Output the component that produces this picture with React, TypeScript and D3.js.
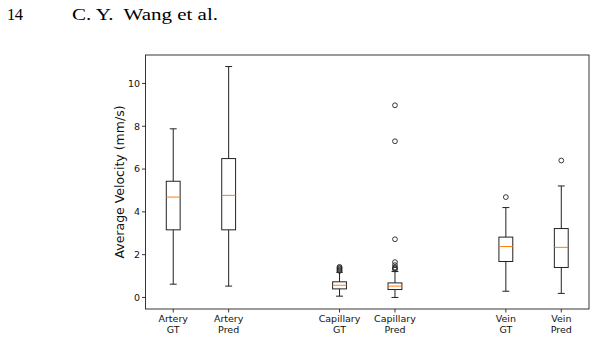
import * as d3 from "d3";
import React, { useRef, useEffect } from "react";

// groups along the x axis
const categories = [
  "Artery\nGT",
  "Artery\nPred",
  "Capillary\nGT",
  "Capillary\nPred",
  "Vein\nGT",
  "Vein\nPred",
];
const positions = [1, 2, 4, 5, 7, 8];

// box statistics per group
const whiskerLow = [0.62, 0.53, 0.06, 0.0, 0.29, 0.19];
const q1 = [3.16, 3.16, 0.4, 0.37, 1.68, 1.4];
const median = [4.69, 4.77, 0.57, 0.53, 2.38, 2.34];
const q3 = [5.43, 6.49, 0.73, 0.68, 2.82, 3.22];
const whiskerHigh = [7.88, 10.79, 1.18, 1.21, 4.2, 5.21];

// fliers per group
const outliers: number[][] = [
  [],
  [],
  [1.24, 1.29, 1.34, 1.38, 1.43],
  [1.31, 1.36, 1.4, 1.51, 1.65, 2.72, 7.3, 8.98],
  [4.69],
  [6.4],
];

const yTicks = [0, 2, 4, 6, 8, 10];

const App = () => {
  const svgRef = useRef<SVGSVGElement>(null);

  useEffect(() => {
    const svg = d3.select(svgRef.current);
    svg.selectAll("*").remove();

    const left = 145.5;
    const right = 589;
    const top = 55;
    const bottom = 309;

    const x = d3.scaleLinear().domain([0.5, 8.5]).range([left, right]);
    const y = d3.scaleLinear().domain([-0.54, 11.33]).range([bottom, top]);

    const boxW = x(0.5) - x(0.25);
    const capW = boxW / 2;
    const ink = "#222";

    // page header
    const serif = "'Liberation Serif', 'DejaVu Serif', serif";
    svg
      .append("text")
      .attr("x", 7)
      .attr("y", 19.5)
      .attr("textLength", 16)
      .style("font-family", serif)
      .style("font-size", "16.5px")
      .text("14");
    svg
      .append("text")
      .attr("x", 72)
      .attr("y", 19.5)
      .attr("textLength", 146)
      .attr("lengthAdjust", "spacingAndGlyphs")
      .style("font-family", serif)
      .style("font-size", "16.5px")
      .style("white-space", "pre")
      .text("C. Y.  Wang et al.");

    const g = svg.append("g");

    const groups = g
      .selectAll("g.box")
      .data(positions.map((p, i) => ({ p, i })))
      .join("g")
      .attr("class", "box");

    // whiskers
    groups
      .append("line")
      .attr("x1", (d) => x(d.p))
      .attr("x2", (d) => x(d.p))
      .attr("y1", (d) => y(whiskerLow[d.i]))
      .attr("y2", (d) => y(q1[d.i]))
      .attr("stroke", ink);
    groups
      .append("line")
      .attr("x1", (d) => x(d.p))
      .attr("x2", (d) => x(d.p))
      .attr("y1", (d) => y(q3[d.i]))
      .attr("y2", (d) => y(whiskerHigh[d.i]))
      .attr("stroke", ink);

    // caps
    [whiskerLow, whiskerHigh].forEach((arr) => {
      groups
        .append("line")
        .attr("x1", (d) => x(d.p) - capW / 2)
        .attr("x2", (d) => x(d.p) + capW / 2)
        .attr("y1", (d) => y(arr[d.i]))
        .attr("y2", (d) => y(arr[d.i]))
        .attr("stroke", ink);
    });

    // boxes
    groups
      .append("rect")
      .attr("x", (d) => x(d.p) - boxW / 2)
      .attr("width", boxW)
      .attr("y", (d) => y(q3[d.i]))
      .attr("height", (d) => y(q1[d.i]) - y(q3[d.i]))
      .attr("fill", "none")
      .attr("stroke", ink);

    // medians
    groups
      .append("line")
      .attr("x1", (d) => x(d.p) - boxW / 2)
      .attr("x2", (d) => x(d.p) + boxW / 2)
      .attr("y1", (d) => y(median[d.i]))
      .attr("y2", (d) => y(median[d.i]))
      .attr("stroke", "#ff7f0e");

    // fliers
    groups
      .selectAll("circle")
      .data((d) => outliers[d.i].map((v) => ({ p: d.p, v })))
      .join("circle")
      .attr("cx", (d) => x(d.p))
      .attr("cy", (d) => y(d.v))
      .attr("r", 2.4)
      .attr("fill", "none")
      .attr("stroke", ink)
      .attr("stroke-width", 0.9);

    // frame
    g.append("rect")
      .attr("x", left)
      .attr("y", top)
      .attr("width", right - left)
      .attr("height", bottom - top)
      .attr("fill", "none")
      .attr("stroke", ink)
      .attr("stroke-width", 0.9);

    const tickFont = "'DejaVu Sans', sans-serif";

    // y ticks
    const yt = g.append("g");
    yt.selectAll("line")
      .data(yTicks)
      .join("line")
      .attr("x1", left - 3.5)
      .attr("x2", left)
      .attr("y1", (d) => y(d))
      .attr("y2", (d) => y(d))
      .attr("stroke", ink)
      .attr("stroke-width", 0.9);
    yt.selectAll("text")
      .data(yTicks)
      .join("text")
      .attr("x", left - 5.5)
      .attr("y", (d) => y(d))
      .attr("dy", "0.35em")
      .attr("text-anchor", "end")
      .style("font-family", tickFont)
      .style("font-size", "9.5px")
      .style("fill", "#111")
      .text((d) => d);

    // x ticks
    const xt = g.append("g");
    xt.selectAll("line")
      .data(positions)
      .join("line")
      .attr("x1", (d) => x(d))
      .attr("x2", (d) => x(d))
      .attr("y1", bottom)
      .attr("y2", bottom + 3.5)
      .attr("stroke", ink)
      .attr("stroke-width", 0.9);
    xt.selectAll("text")
      .data(positions.map((p, i) => ({ p, i })))
      .join("text")
      .attr("text-anchor", "middle")
      .style("font-family", tickFont)
      .style("font-size", "9.5px")
      .style("fill", "#111")
      .each(function (d) {
        const lines = categories[d.i].split("\n");
        d3.select(this)
          .selectAll("tspan")
          .data(lines)
          .join("tspan")
          .attr("x", x(d.p))
          .attr("y", (_l, k) => bottom + 13 + k * 10.7)
          .text((l) => l);
      });

    // y axis title
    g.append("text")
      .attr("transform", `translate(123.5,${(top + bottom) / 2}) rotate(-90)`)
      .attr("text-anchor", "middle")
      .style("font-family", tickFont)
      .style("font-size", "12.5px")
      .style("fill", "#111")
      .text("Average Velocity (mm/s)");
  }, []);

  return (
    <svg
      ref={svgRef}
      width={596}
      height={339}
      style={{ position: "absolute", left: 0, top: 0, background: "#fff" }}
    ></svg>
  );
};

export default App;
